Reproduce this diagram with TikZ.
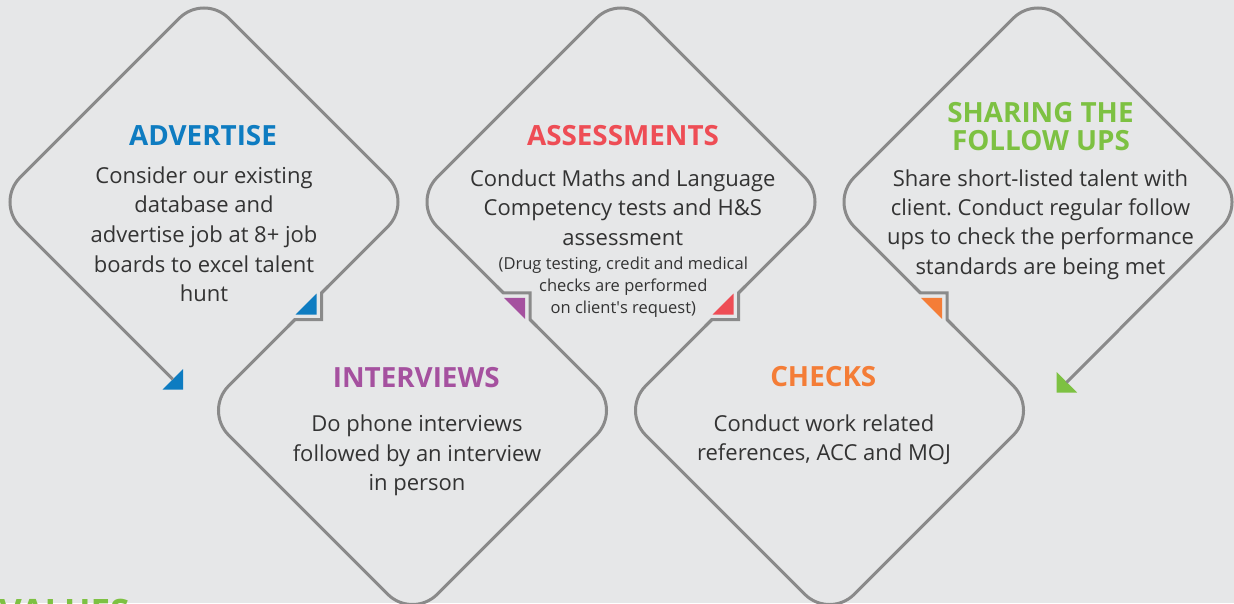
\documentclass[tikz,border=0pt]{standalone}
\usepackage{fontspec}
\setmainfont{Open Sans}
\usetikzlibrary{calc}
\frenchspacing
\definecolor{bg}{HTML}{E6E7E8}
\definecolor{edge}{HTML}{8A8A8A}
\definecolor{txt}{HTML}{333333}
\definecolor{advblue}{HTML}{0E7CC1}
\definecolor{assred}{HTML}{EE4D55}
\definecolor{intpurple}{HTML}{A5519F}
\definecolor{chkorange}{HTML}{F47D37}
\definecolor{shrgreen}{HTML}{7DC142}
\tikzset{
  outline/.style={draw=edge, line width=3pt},
  roundpath/.style={outline, rounded corners=35pt},
  steppath/.style={outline, line join=miter},
  ttl/.style={anchor=base, inner sep=0pt, font=\bfseries\fontsize{27.8}{30}\selectfont},
  bd/.style={anchor=base, inner sep=0pt, text=txt, font=\fontsize{22}{29.5}\selectfont},
  sm/.style={anchor=base, inner sep=0pt, text=txt, font=\fontsize{16.5}{22}\selectfont},
}
% #1 midpoint, #2 cx, #3 cy, #4 colour, #5 name
\newcommand\drawnotch[5]{%
  \fill[#4] ($(#1)+({8.3*(#2)},{8.3*(#3)})$) -- ($(#1)+({8.3*(#2)},{-12.7*(#3)})$)
     -- ($(#1)+({-12.7*(#2)},{8.3*(#3)})$) -- cycle;
  \coordinate (#5a) at ($(#1)+({13.3*(#2)},{-13.3*(#3)})$);
  \coordinate (#5c) at ($(#1)+({13.3*(#2)},{13.3*(#3)})$);
  \coordinate (#5b) at ($(#1)+({-13.3*(#2)},{13.3*(#3)})$);
  \draw[steppath] ($(#1)+({20*(#2)},{-20*(#3)})$) -- (#5a) -- (#5c) -- (#5b)
     -- ($(#1)+({-20*(#2)},{20*(#3)})$);
}
\begin{document}
\begin{tikzpicture}[x=1pt,y=-1pt]
\fill[bg] (0,0) rectangle (1234,603);
\useasboundingbox (0,0) rectangle (1234,603);
% diamond vertices
\coordinate (AL) at (-4.5,202);  \coordinate (AT) at (204,-6.5);
\coordinate (AR) at (412.5,202); \coordinate (AB) at (204,410.5);
\coordinate (IL) at (204,410.5); \coordinate (IB) at (412.5,619); \coordinate (IR) at (621,410.5);
\coordinate (SL) at (412.5,202); \coordinate (ST) at (621,-6.5); \coordinate (SR) at (829.5,202);
\coordinate (CL) at (621,410.5); \coordinate (CB) at (829.5,619); \coordinate (CR) at (1038,410.5);
\coordinate (HL) at (829.5,202); \coordinate (HT) at (1038,-6.5);
\coordinate (HR) at (1246.5,202); \coordinate (HB) at (1038,410.5);
% notch midpoints
\coordinate (M1) at (308.25,306.25);
\coordinate (M2) at (516.75,306.25);
\coordinate (M3) at (725.25,306.25);
\coordinate (M4) at (933.75,306.25);
\drawnotch{M1}{1}{1}{advblue}{na}
\drawnotch{M2}{1}{-1}{intpurple}{nb}
\drawnotch{M3}{1}{1}{assred}{nc}
\drawnotch{M4}{1}{-1}{chkorange}{nd}
% arrow heads
\coordinate (tip1) at ($(AB)+(-21,-21)$);
\coordinate (base1) at ($(tip1)+(-10.25,-10.25)$);
\fill[advblue] (tip1) -- ($(tip1)+(-20.5,0)$) -- ($(tip1)+(0,-20.5)$) -- cycle;
\coordinate (tip5) at ($(HB)+(18.5,-18)$);
\coordinate (base5) at ($(tip5)+(10,-10)$);
\fill[shrgreen] (tip5) -- ($(tip5)+(20.5,0)$) -- ($(tip5)+(0,-20.5)$) -- cycle;
% outline
\draw[roundpath] (base1) -- (AL) -- (AT) -- (AR) -- (naa);
\draw[roundpath] (nab) -- (IL) -- (IB) -- (IR) -- (nba);
\draw[roundpath] (nbb) -- (SL) -- (ST) -- (SR) -- (nca);
\draw[roundpath] (ncb) -- (CL) -- (CB) -- (CR) -- (nda);
\draw[roundpath] (ndb) -- (HL) -- (HT) -- (HR) -- (base5);
% ADVERTISE
\node[ttl,text=advblue] (advt) at (203,145.5) {ADVERTISE};
\node[bd] (adv1) at (204,183.3) {Consider our existing};
\node[bd] (adv2) at (204,212.9) {database and};
\node[bd] (adv3) at (204,242.5) {advertise job at 8+ job};
\node[bd] (adv4) at (204,272.1) {boards to excel talent};
\node[bd] (adv5) at (204,301.7) {hunt};
% ASSESSMENTS
\node[ttl,text=assred] (asst) at (623,145.7) {ASSESSMENTS};
\node[bd] (ass1) at (622.8,186) {Conduct Maths and Language};
\node[bd] (ass2) at (622.8,215.5) {Competency tests and H\&S};
\node[bd] (ass3) at (622.8,245) {assessment};
\node[sm] (ass4) at (623.3,269.3) {(Drug testing, credit and medical};
\node[sm] (ass5) at (623.3,291.5) {checks are performed};
\node[sm] (ass6) at (623.3,313.5) {on client\textquotesingle s request)};
% SHARING
\node[ttl,text=shrgreen] (shrt1) at (1040.5,122.3) {SHARING THE};
\node[ttl,text=shrgreen] (shrt2) at (1041,150) {FOLLOW UPS};
\node[bd] (shr1) at (1040.5,186.5) {Share short-listed talent with};
\node[bd] (shr2) at (1040.5,215.7) {client. Conduct regular follow};
\node[bd] (shr3) at (1040.5,244.9) {ups to check the performance};
\node[bd] (shr4) at (1040.5,274.1) {standards are being met};
% INTERVIEWS
\node[ttl,text=intpurple] (intt) at (416.3,387.3) {INTERVIEWS};
\node[bd] (int1) at (417,431.7) {Do phone interviews};
\node[bd] (int2) at (417,461) {followed by an interview};
\node[bd] (int3) at (417,490.3) {in person};
% CHECKS
\node[ttl,text=chkorange] (chkt) at (823.3,386.7) {CHECKS};
\node[bd] (chk1) at (824,431.7) {Conduct work related};
\node[bd] (chk2) at (824,460.9) {references, ACC and MOJ};
% VALUES (cut off at the bottom)
\node[anchor=base west, inner sep=0pt, text=shrgreen, font=\bfseries\fontsize{35}{37}\selectfont] (values) at (-1,624) {VALUES};
\end{tikzpicture}
\end{document}
